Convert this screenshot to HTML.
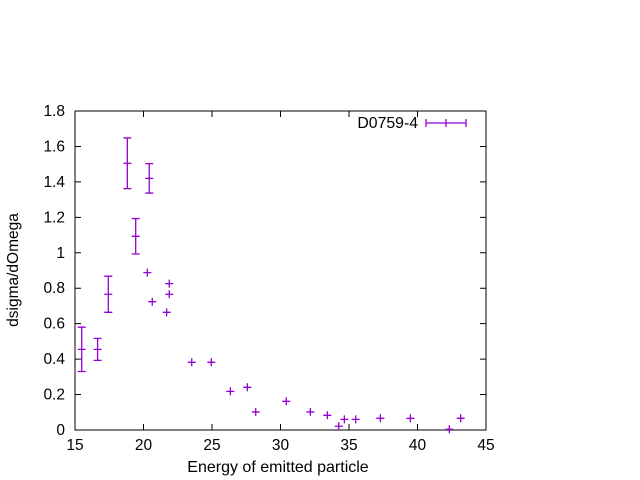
<!DOCTYPE html>
<html><head><meta charset="utf-8"><style>body{margin:0;background:#fff}svg{display:block;font-family:"Liberation Sans",sans-serif}</style></head>
<body>
<svg id="chart" width="640" height="480" xmlns="http://www.w3.org/2000/svg">
<rect x="0" y="0" width="640" height="480" fill="#fff"/>
<g id="axes"></g>
<g id="marks"></g>
<text x="18" y="270" font-size="15.5" text-anchor="middle" transform="rotate(-90 18 270)">dsigma/dOmega</text>
<text x="278" y="472" font-size="16" text-anchor="middle">Energy of emitted particle</text>
<g>
<text x="418" y="128" font-size="15.8" text-anchor="end">D0759-4</text>
<path d="M426 123H466M426 119V127M466 119V127M446 119V127" stroke="#9400d3" stroke-width="1.3" fill="none"/>
</g>
</svg>
<script>
const xTicks=[15,20,25,30,35,40,45];
const yTicks=[0,0.2,0.4,0.6,0.8,1,1.2,1.4,1.6,1.8];
const yTickLabels=["0","0.2","0.4","0.6","0.8","1","1.2","1.4","1.6","1.8"];
const energies=[15.49,16.65,17.43,18.82,19.43,20.28,20.42,20.64,21.69,21.88,21.88,23.52,24.95,26.34,27.58,28.19,30.42,32.18,33.42,34.25,34.66,35.49,37.29,39.48,42.32,43.15];
const values=[0.455,0.455,0.766,1.505,1.093,0.888,1.42,0.724,0.664,0.826,0.766,0.382,0.382,0.218,0.241,0.102,0.162,0.102,0.083,0.021,0.06,0.06,0.066,0.066,0.004,0.066];
const errors=[0.125,0.062,0.102,0.143,0.1,0,0.083,0,0,0,0,0,0,0,0,0,0,0,0,0,0,0,0,0,0,0];
const X0=75,X1=486,Y0=430,Y1=111;
const sx=v=>X0+(v-15)/30*(X1-X0);
const sy=v=>Y0-v/1.8*(Y0-Y1);
const NS="http://www.w3.org/2000/svg";
const axes=document.getElementById('axes'),marks=document.getElementById('marks');
function mk(tag,attrs,parent){const e=document.createElementNS(NS,tag);for(const k in attrs)e.setAttribute(k,attrs[k]);parent.appendChild(e);return e;}
const frame=mk('rect',{x:X0,y:Y1,width:X1-X0,height:Y0-Y1,fill:'none',stroke:'#000','stroke-width':1},axes);


xTicks.forEach(t=>{const x=sx(t);
 const p=mk('path',{d:`M${x} ${Y0}v-6M${x} ${Y1}v6`,stroke:'#000'},axes);
 
 
 const tx=mk('text',{x:x,y:Y0+20,'font-size':15.5,'text-anchor':'middle'},axes);tx.textContent=t;
 
 
});
yTicks.forEach((t,i)=>{const y=sy(t);
 const p=mk('path',{d:`M${X0} ${y}h6M${X1} ${y}h-6`,stroke:'#000'},axes);
 
 
 const tx=mk('text',{x:X0-10,y:y+5,'font-size':15.5,'text-anchor':'end'},axes);tx.textContent=yTickLabels[i];
 
 
});
energies.forEach((e,i)=>{const x=sx(e),y=sy(values[i]);let d=`M${x-4} ${y}h8M${x} ${y-4}v8`;
 if(errors[i]>0){const t=sy(values[i]+errors[i]),b=sy(values[i]-errors[i]);d+=`M${x} ${t}V${b}M${x-4} ${t}h8M${x-4} ${b}h8`;}
 const p=mk('path',{d:d,stroke:'#9400d3','stroke-width':1.3,fill:'none'},marks);
 
 
});
</script>
</body></html>
